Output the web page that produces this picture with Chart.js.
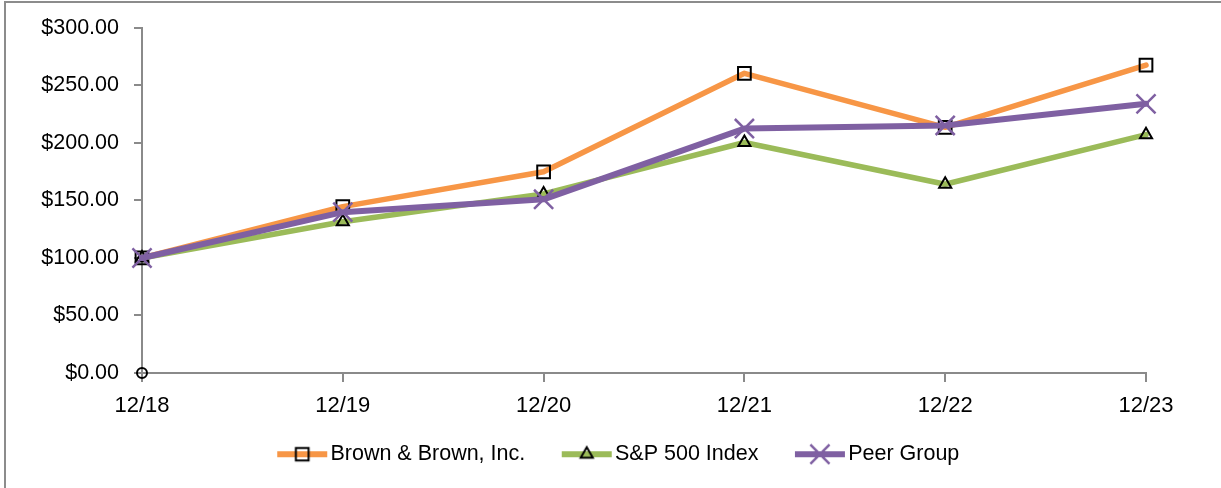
<!DOCTYPE html>
<html>
<head>
<meta charset="utf-8">
<script src="https://cdn.jsdelivr.net/npm/chart.js@4/dist/chart.umd.min.js"></script>
<style>
  body { margin: 0; background: #fff; }
  #wrap { width: 1221px; height: 488px; }
</style>
</head>
<body>
<div id="wrap"><canvas id="perfChart" width="1221" height="488"></canvas></div>
<script>
// ---------- data ----------
const years = ["12/18", "12/19", "12/20", "12/21", "12/22", "12/23"];
const brownValues = [100, 144.6, 174.9, 260.5, 213.6, 267.7];
const spValues = [100, 131.5, 155.7, 200.4, 164.1, 207.2];
const peerValues = [100, 139.8, 151.0, 212.5, 215.2, 234.0];
const originMarker = [0]; // stray circle at the origin in the original
const yTicks = [0, 50, 100, 150, 200, 250, 300];

const ORANGE = "#F79646";
const GREEN = "#9BBB59";
const PURPLE = "#7F60A2";
const AXIS = "#8a8a8a";
const FONT = "'Liberation Sans', Arial, sans-serif";

// legend swatch: a short line with the marker in the middle
function swatch(color, style, radius, markerColor, markerWidth) {
  const c = document.createElement("canvas");
  c.width = 52;
  c.height = 22;
  const g = c.getContext("2d");
  g.strokeStyle = color;
  g.lineWidth = 6;
  g.beginPath();
  g.moveTo(1, 11);
  g.lineTo(51, 11);
  g.stroke();
  g.strokeStyle = markerColor;
  g.fillStyle = "rgba(0,0,0,0)";
  g.lineWidth = markerWidth;
  Chart.helpers.drawPoint(g, { pointStyle: style, radius: radius, borderWidth: markerWidth, rotation: 0 }, 26, 11);
  return c;
}

// ---------- frame + legend placement ----------
const frame = {
  id: "frame",
  afterLayout(chart) {
    const lg = chart.legend;
    if (!lg) return;
    // legend row centred at y≈453, x≈622
    lg.top = 399.5;
    lg.bottom = 486;
    lg.height = lg.bottom - lg.top;
    lg.left += 44;
    lg.right += 44;
  },
  afterDraw(chart) {
    const { ctx } = chart;
    ctx.save();
    ctx.strokeStyle = "#8c8c8c";
    ctx.lineWidth = 2;
    ctx.beginPath();
    ctx.moveTo(5, 488);
    ctx.lineTo(5, 2);
    ctx.lineTo(1221, 2);
    ctx.stroke();
    ctx.restore();
  },
};

const data = {
  labels: years,
  datasets: [
    {
      label: "Brown & Brown, Inc.",
      data: brownValues,
      borderColor: ORANGE,
      borderWidth: 5.5,
      pointStyle: "rect",
      pointRadius: 9,
      pointBorderColor: "#000",
      pointBackgroundColor: "rgba(0,0,0,0)",
      pointBorderWidth: 2,
      order: 3,
      clip: false,
      legendImg: swatch(ORANGE, "rect", 9, "#000", 2),
    },
    {
      label: "S&P 500 Index",
      data: spValues,
      borderColor: GREEN,
      borderWidth: 5.5,
      pointStyle: "triangle",
      pointRadius: 7,
      pointBorderColor: "#000",
      pointBackgroundColor: "rgba(0,0,0,0)",
      pointBorderWidth: 2,
      order: 2,
      clip: false,
      legendImg: swatch(GREEN, "triangle", 7, "#000", 2),
    },
    {
      label: "Peer Group",
      data: peerValues,
      borderColor: PURPLE,
      borderWidth: 6,
      pointStyle: "crossRot",
      pointRadius: 13.5,
      pointBorderColor: PURPLE,
      pointBorderWidth: 2.5,
      order: 1,
      clip: false,
      legendImg: swatch(PURPLE, "crossRot", 13.5, PURPLE, 2.5),
    },
    {
      label: "",
      data: originMarker,
      showLine: false,
      pointStyle: "circle",
      pointRadius: 5,
      pointBorderColor: "#000",
      pointBackgroundColor: "rgba(0,0,0,0)",
      pointBorderWidth: 2,
      order: 4,
      clip: false,
    },
  ],
};

const config = {
  type: "line",
  data,
  options: {
    responsive: false,
    animation: false,
    layout: { padding: { left: 10, right: 75, top: 27, bottom: 15 } },
    elements: { line: { tension: 0, borderCapStyle: "round", borderJoinStyle: "round" } },
    scales: {
      x: {
        grid: { display: true, drawOnChartArea: false, tickLength: 9, color: AXIS, lineWidth: 2 },
        border: { color: AXIS, width: 2 },
        ticks: { color: "#000", font: { family: FONT, size: 22 }, padding: 11, maxRotation: 0 },
        afterFit(scale) { scale.height = 60; },
      },
      y: {
        min: 0,
        max: 300,
        afterBuildTicks(scale) { scale.ticks = yTicks.map(v => ({ value: v })); },
        grid: { display: true, drawOnChartArea: false, tickLength: 8, color: AXIS, lineWidth: 2 },
        border: { color: AXIS, width: 2 },
        ticks: {
          color: "#000",
          font: { family: FONT, size: 21.5 },
          padding: 15,
          callback: v => "$" + Number(v).toFixed(2),
        },
        afterFit(scale) { scale.width = 132; },
      },
    },
    plugins: {
      tooltip: { enabled: false },
      legend: {
        position: "bottom",
        maxHeight: 40,
        labels: {
          color: "#000",
          font: { family: FONT, size: 21.5 },
          usePointStyle: true,
          pointStyleWidth: 35,
          boxHeight: 21,
          padding: 44,
          generateLabels(chart) {
            return chart.data.datasets.slice(0, 3).map((ds, i) => ({
              text: ds.label,
              pointStyle: ds.legendImg,
              fillStyle: ds.borderColor,
              strokeStyle: ds.borderColor,
              lineWidth: 0,
              hidden: false,
              datasetIndex: i,
            }));
          },
        },
      },
    },
  },
  plugins: [frame],
};

const myChart = new Chart(document.getElementById("perfChart"), config);
</script>
</body>
</html>
